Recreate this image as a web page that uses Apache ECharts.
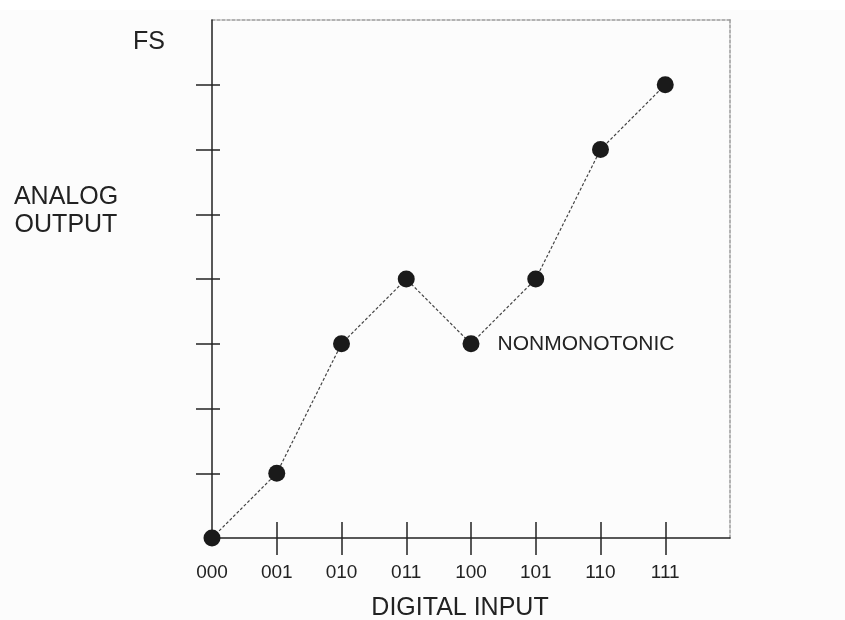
<!DOCTYPE html>
<html>
<head>
<meta charset="utf-8">
<script src="https://cdn.jsdelivr.net/npm/echarts@6/dist/echarts.min.js"></script>
<style>html,body{margin:0;padding:0;background:#fcfcfc}#c{width:845px;height:620px}</style>
</head>
<body>
<div id="c"></div>
<script>
const categories = ['000', '001', '010', '011', '100', '101', '110', '111'];
const outputLevels = [0, 1, 3, 4, 3, 4, 6, 7];
const annotatedIndex = 4;
const annotationText = 'NONMONOTONIC';
const yTickValues = [1, 2, 3, 4, 5, 6, 7];
const xTickValues = [1, 2, 3, 4, 5, 6, 7];
const xLabelValues = [0, 1, 2, 3, 4, 5, 6, 7];

const chart = echarts.init(document.getElementById('c'), null, {renderer: 'canvas'});
const font = 'Liberation Sans, Arial, sans-serif';
const axisColor = '#222';

const seriesData = outputLevels.map((v, i) => {
  const d = {value: [i, v]};
  if (i === annotatedIndex) {
    d.label = {show: true, position: 'right', distance: 18, formatter: annotationText,
      fontFamily: font, fontSize: 21, color: '#222'};
  }
  return d;
});

chart.setOption({
  backgroundColor: '#fcfcfc',
  animation: false,
  grid: {left: 212, right: 115, top: 20, bottom: 82},
  xAxis: [
    {type: 'value', min: 0, max: 8, interval: 1, position: 'bottom',
      axisLine: {show: true, onZero: false, lineStyle: {color: axisColor, width: 1.5}},
      axisTick: {show: true, inside: false, length: 17, customValues: xTickValues, lineStyle: {color: axisColor, width: 1.5}},
      axisLabel: {show: true, margin: 25, customValues: xLabelValues, fontFamily: font, fontSize: 19, color: '#222',
        formatter: v => categories[v] !== undefined ? categories[v] : ''},
      splitLine: {show: false}, z: 3},
    {type: 'value', min: 0, max: 8, interval: 1, position: 'bottom',
      axisLine: {show: false, onZero: false},
      axisTick: {show: true, inside: true, length: 16, customValues: xTickValues, lineStyle: {color: axisColor, width: 1.5}},
      axisLabel: {show: false}, splitLine: {show: false}, z: 3},
    {type: 'value', min: 0, max: 8, position: 'top',
      axisLine: {show: true, onZero: false, lineStyle: {color: '#999', width: 1.5, type: [3, 2]}},
      axisTick: {show: false}, axisLabel: {show: false}, splitLine: {show: false}}
  ],
  yAxis: [
    {type: 'value', min: 0, max: 8, interval: 1, position: 'left',
      axisLine: {show: true, onZero: false, lineStyle: {color: axisColor, width: 1.5}},
      axisTick: {show: true, inside: false, length: 16, customValues: yTickValues, lineStyle: {color: axisColor, width: 1.5}},
      axisLabel: {show: false}, splitLine: {show: false}, z: 3},
    {type: 'value', min: 0, max: 8, interval: 1, position: 'left',
      axisLine: {show: false, onZero: false},
      axisTick: {show: true, inside: true, length: 8, customValues: yTickValues, lineStyle: {color: axisColor, width: 1.5}},
      axisLabel: {show: false}, splitLine: {show: false}, z: 3},
    {type: 'value', min: 0, max: 8, position: 'right',
      axisLine: {show: true, onZero: false, lineStyle: {color: '#999', width: 1.5, type: [3, 2]}},
      axisTick: {show: false}, axisLabel: {show: false}, splitLine: {show: false}}
  ],
  series: [{
    type: 'line', xAxisIndex: 0, yAxisIndex: 0,
    data: seriesData,
    symbol: 'circle', symbolSize: 17,
    itemStyle: {color: '#1a1a1a'},
    lineStyle: {color: '#444', width: 1.2, type: [3, 2]},
    z: 5
  }],
  graphic: [
    {type: 'rect', left: 0, top: 0, shape: {width: 845, height: 10}, style: {fill: '#ffffff'}, z: -1, silent: true},
    {type: 'text', x: 149, y: 42, style: {text: 'FS', fontFamily: font, fontSize: 25, fill: '#222', textAlign: 'center', textVerticalAlign: 'middle'}},
    {type: 'text', x: 66, y: 211, style: {text: 'ANALOG\nOUTPUT', fontFamily: font, fontSize: 25, lineHeight: 28, fill: '#222', textAlign: 'center', textVerticalAlign: 'middle'}},
    {type: 'text', x: 460, y: 608, style: {text: 'DIGITAL INPUT', fontFamily: font, fontSize: 25, fill: '#222', textAlign: 'center', textVerticalAlign: 'middle'}}
  ]
});
</script>
</body>
</html>
